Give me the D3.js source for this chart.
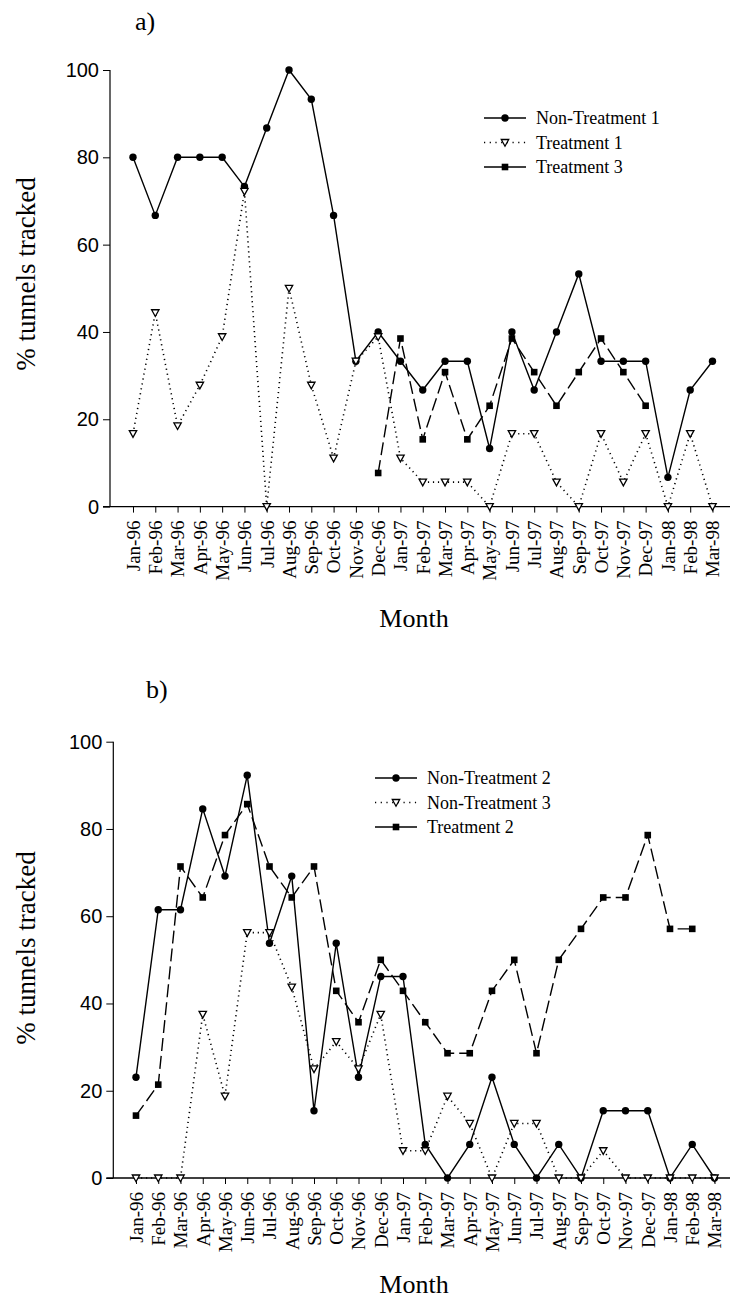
<!DOCTYPE html>
<html>
<head>
<meta charset="utf-8">
<script src="https://d3js.org/d3.v7.min.js"></script>
<style>
body { margin: 0; background: #fff; }
svg { display: block; }
</style>
</head>
<body>
<div id="vis"></div>
<script>
// month labels shared by both panels
const MONTHS = ["Jan-96","Feb-96","Mar-96","Apr-96","May-96","Jun-96","Jul-96","Aug-96","Sep-96","Oct-96","Nov-96","Dec-96",
  "Jan-97","Feb-97","Mar-97","Apr-97","May-97","Jun-97","Jul-97","Aug-97","Sep-97","Oct-97","Nov-97","Dec-97",
  "Jan-98","Feb-98","Mar-98"];
const Y_TICKS = [0, 20, 40, 60, 80, 100];

// panel a
const NON_TREATMENT_1 = [80, 66.7, 80, 80, 80, 73.3, 86.7, 100, 93.3, 66.7, 33.3, 40,
  33.3, 26.7, 33.3, 33.3, 13.3, 40, 26.7, 40, 53.3, 33.3, 33.3, 33.3, 6.7, 26.7, 33.3];
const TREATMENT_1 = [16.7, 44.4, 18.5, 27.8, 38.9, 72.2, 0, 50, 27.8, 11.1, 33.3, 38.9,
  11.1, 5.6, 5.6, 5.6, 0, 16.7, 16.7, 5.6, 0, 16.7, 5.6, 16.7, 0, 16.7, 0];
const TREATMENT_3 = [null, null, null, null, null, null, null, null, null, null, null, 7.7,
  38.5, 15.4, 30.8, 15.4, 23.1, 38.5, 30.8, 23.1, 30.8, 38.5, 30.8, 23.1, null, null, null];

// panel b
const NON_TREATMENT_2 = [23.1, 61.5, 61.5, 84.6, 69.2, 92.3, 53.8, 69.2, 15.4, 53.8, 23.1, 46.2,
  46.2, 7.7, 0, 7.7, 23.1, 7.7, 0, 7.7, 0, 15.4, 15.4, 15.4, 0, 7.7, 0];
const NON_TREATMENT_3 = [0, 0, 0, 37.5, 18.75, 56.25, 56.25, 43.75, 25, 31.25, 25, 37.5,
  6.25, 6.25, 18.75, 12.5, 0, 12.5, 12.5, 0, 0, 6.25, 0, 0, 0, 0, 0];
const TREATMENT_2 = [14.3, 21.4, 71.4, 64.3, 78.6, 85.7, 71.4, 64.3, 71.4, 42.9, 35.7, 50,
  42.9, 35.7, 28.6, 28.6, 42.9, 50, 28.6, 50, 57.1, 64.3, 64.3, 78.6, 57.1, 57.1, null];

const WIDTH = 730;
const HEIGHT = 1300;
const SERIF = "'Liberation Serif', 'Times New Roman', serif";
const SANS = "'Liberation Sans', Arial, sans-serif";

const SVG = d3.select("#vis")
  .append("svg")
    .attr("width", WIDTH)
    .attr("height", HEIGHT);

const DOTTED = "1.2,3.8";
const DASHED = "13,5";

// draws one marker at (x, y)
function marker(g, type, x, y) {
  if (type == "circle") {
    g.append("circle").attr("cx", x).attr("cy", y).attr("r", 3.7).attr("fill", "#000");
  } else if (type == "square") {
    g.append("rect").attr("x", x - 3.3).attr("y", y - 3.3).attr("width", 6.6).attr("height", 6.6).attr("fill", "#000");
  } else {
    g.append("path")
      .attr("d", "M" + (x - 3.7) + "," + (y - 3) + "L" + (x + 3.7) + "," + (y - 3) + "L" + x + "," + (y + 3.7) + "Z")
      .attr("fill", "#fff").attr("stroke", "#000").attr("stroke-width", 1.3);
  }
}

function drawPanel(p) {
  const X_SCALE = d3.scalePoint().domain(MONTHS).range([p.x0, p.x1]);
  const Y_SCALE = d3.scaleLinear().domain([0, 100]).range([p.yBottom, p.yTop]);
  const g = SVG.append("g");

  // y axis
  g.append("g")
    .attr("transform", "translate(" + p.axisX + ",0)")
    .call(d3.axisLeft(Y_SCALE).tickValues(Y_TICKS).tickSize(7).tickPadding(4))
    .call(a => a.select(".domain").attr("stroke-width", 1.2).attr("d", "M0," + p.yTop + "V" + p.yBottom))
    .call(a => a.selectAll("text").attr("font-family", SANS).attr("font-size", 20).attr("fill", "#000"));

  // x axis
  const xa = g.append("g")
    .attr("transform", "translate(0," + p.yBottom + ")")
    .call(d3.axisBottom(X_SCALE).tickSize(6).tickPadding(0));
  xa.select(".domain").attr("stroke-width", 1.4).attr("d", "M" + (p.axisX - 7) + ",0H" + WIDTH);
  xa.selectAll("text")
    .attr("font-family", SERIF).attr("font-size", 19).attr("fill", "#000")
    .attr("text-anchor", "end")
    .attr("transform", "translate(0,14) rotate(-90)")
    .attr("x", 0).attr("y", 0).attr("dy", "0.33em");

  // series
  p.series.forEach(s => {
    const line = d3.line()
      .defined(d => d != null)
      .x((d, i) => X_SCALE(MONTHS[i]))
      .y(d => Y_SCALE(d));
    g.append("path")
      .attr("d", line(s.values))
      .attr("fill", "none")
      .attr("stroke", "#000")
      .attr("stroke-width", s.dash == DOTTED ? 1.6 : 1.4)
      .attr("stroke-dasharray", s.dash);
    s.values.forEach((v, i) => {
      if (v != null) marker(g, s.marker, X_SCALE(MONTHS[i]), Y_SCALE(v));
    });
  });

  // legend
  p.series.forEach((s, i) => {
    const y = p.legendY + i * 24.5;
    g.append("line")
      .attr("x1", p.legendX).attr("x2", p.legendX + 42)
      .attr("y1", y).attr("y2", y)
      .attr("stroke", "#000").attr("stroke-width", s.dash == DOTTED ? 1.6 : 1.4)
      .attr("stroke-dasharray", s.dash == DOTTED ? "1.2,4.5" : null);
    marker(g, s.marker, p.legendX + 21, y);
    g.append("text")
      .attr("x", p.legendX + 52).attr("y", y).attr("dy", "0.35em")
      .attr("font-family", SERIF).attr("font-size", 18)
      .text(s.name);
  });

  // titles
  g.append("text")
    .attr("x", p.letterX).attr("y", p.letterY)
    .attr("font-family", SERIF).attr("font-size", 26)
    .text(p.letter);
  g.append("text")
    .attr("x", 414).attr("y", p.monthY)
    .attr("text-anchor", "middle")
    .attr("font-family", SERIF).attr("font-size", 26)
    .text("Month");
  g.append("text")
    .attr("transform", "translate(35," + p.titleY + ") rotate(-90)")
    .attr("text-anchor", "middle")
    .attr("font-family", SERIF).attr("font-size", 27)
    .text("% tunnels tracked");
}

drawPanel({
  letter: "a)", letterX: 135, letterY: 30,
  axisX: 110, yTop: 70, yBottom: 506.6, x0: 133, x1: 712.5,
  monthY: 627, titleY: 274,
  legendX: 484, legendY: 118,
  series: [
    {name: "Non-Treatment 1", values: NON_TREATMENT_1, marker: "circle", dash: null},
    {name: "Treatment 1", values: TREATMENT_1, marker: "triangle", dash: DOTTED},
    {name: "Treatment 3", values: TREATMENT_3, marker: "square", dash: DASHED}
  ]
});

drawPanel({
  letter: "b)", letterX: 146, letterY: 698,
  axisX: 113.3, yTop: 741.7, yBottom: 1178, x0: 136, x1: 714.5,
  monthY: 1293, titleY: 948,
  legendX: 375, legendY: 778,
  series: [
    {name: "Non-Treatment 2", values: NON_TREATMENT_2, marker: "circle", dash: null},
    {name: "Non-Treatment 3", values: NON_TREATMENT_3, marker: "triangle", dash: DOTTED},
    {name: "Treatment 2", values: TREATMENT_2, marker: "square", dash: DASHED}
  ]
});
</script>
</body>
</html>
